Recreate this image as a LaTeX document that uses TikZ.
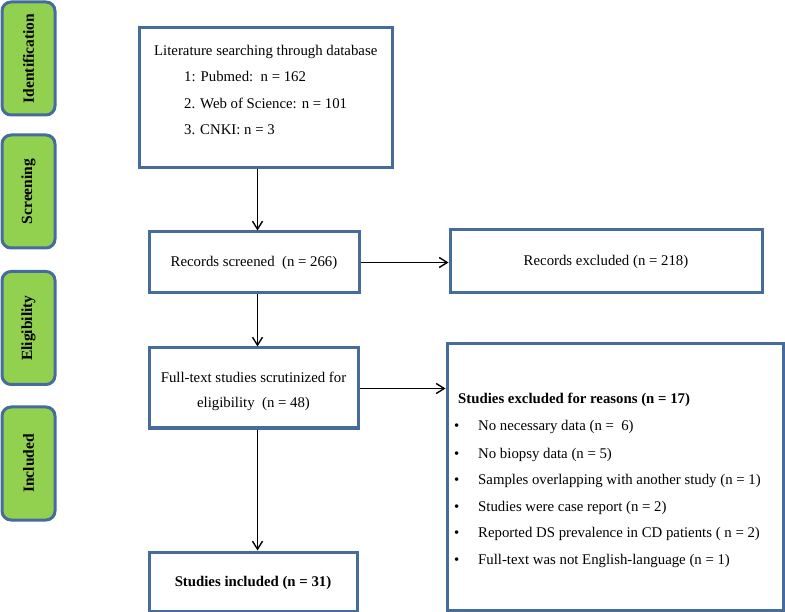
\documentclass[tikz,border=0pt]{standalone}
\usepackage{fontspec}
\setmainfont{Liberation Serif}
\usetikzlibrary{arrows.meta}
\definecolor{boxblue}{HTML}{466C9C}
\definecolor{stagegreen}{HTML}{92D050}
\tikzset{
  stagebox/.style={draw=boxblue, fill=stagegreen, line width=3pt, rounded corners=9pt,
    minimum width=53pt, minimum height=113pt, inner sep=0pt},
  stagetext/.style={rotate=90, font=\fontsize{15.5}{18}\selectfont\bfseries},
  flowbox/.style={draw=boxblue, line width=3pt, inner sep=0pt},
  txt/.style={font=\fontsize{14.8}{18}\selectfont, inner sep=0pt},
  arr/.style={-{Straight Barb[length=8pt,width=10pt,line width=1.4pt]}, line width=1.4pt, black},
}
\begin{document}
\begin{tikzpicture}[x=1pt,y=-1pt]
\useasboundingbox (0,0) rectangle (785,612);
% stage labels
\node[stagebox] (sid) at (28.5,58.5) {};
\node[stagetext] (tid) at (sid.center) {Identification};
\node[stagebox] (ssc) at (28.5,191.5) {};
\node[stagetext] (tsc) at (ssc.center) {Screening};
\node[stagebox] (sel) at (28.5,328) {};
\node[stagetext] (tel) at (sel.center) {Eligibility};
\node[stagebox] (sin) at (28.5,463.5) {};
\node[stagetext] (tin) at (sin.center) {Included};
% boxes
\node[flowbox, minimum width=253pt, minimum height=140pt] (b1) at (265.5,98) {};
\node[flowbox, minimum width=210pt, minimum height=61pt] (b2) at (254,262.5) {};
\node[flowbox, minimum width=312pt, minimum height=63pt] (b3) at (606,261) {};
\node[flowbox, minimum width=209pt, minimum height=80pt] (b4) at (253.5,388) {};
\node[flowbox, minimum width=208pt, minimum height=59pt] (b5) at (253,581.5) {};
\node[flowbox, minimum width=336pt, minimum height=266pt] (b6) at (615,477) {};
% box 1 text
\node[txt, anchor=base west] (l1) at (154,56) {Literature searching through database};
\node[txt, anchor=base west] (l2) at (184,82) {1: Pubmed:\ \ n = 162};
\node[txt, anchor=base west] (l3) at (184,108.5) {2. Web of Science: n = 101};
\node[txt, anchor=base west] (l4) at (184,135) {3. CNKI: n = 3};
% box 2,3 text
\node[txt] (t2) at (254,263) {Records screened\ \ (n = 266)};
\node[txt] (t3) at (606,262) {Records excluded (n = 218)};
% box 4 text
\node[txt] (t4a) at (253.5,377) {Full-text studies scrutinized for};
\node[txt] (t4b) at (253.5,404) {eligibility\ \ (n = 48)};
% box 5 text
\node[txt, font=\fontsize{14.8}{18}\selectfont\bfseries] (t5) at (253,583) {Studies included (n = 31)};
% box 6 text
\node[txt, font=\fontsize{14.8}{18}\selectfont\bfseries, anchor=base west] (e0) at (458,404) {Studies excluded for reasons (n = 17)};
\foreach \i/\yy/\tx in {1/431/{No necessary data (n =\ \ 6)},
                        2/458/{No biopsy data (n = 5)},
                        3/484.5/{Samples overlapping with another study (n = 1)},
                        4/511/{Studies were case report (n = 2)},
                        5/537.5/{Reported DS prevalence in CD patients ( n = 2)},
                        6/564/{Full-text was not English-language (n = 1)}}{
  \node[txt, anchor=base west] (bu\i) at (454,\yy) {\textbullet};
  \node[txt, anchor=base west] (e\i) at (478,\yy) {\tx};
}
% connectors
\coordinate (colx) at (257.5,0);
\draw[arr] (b1.south -| colx) -- (b2.north -| colx);
\draw[arr] (b2.south -| colx) -- (b4.north -| colx);
\draw[arr] (b4.south -| colx) -- (b5.north -| colx);
\draw[arr] (b2.east) -- (b2.east -| b3.west);
\draw[arr] ([yshift=-0.5pt]b4.east) -- ([yshift=-0.5pt]b4.east -| b6.west);
\end{tikzpicture}
\end{document}
